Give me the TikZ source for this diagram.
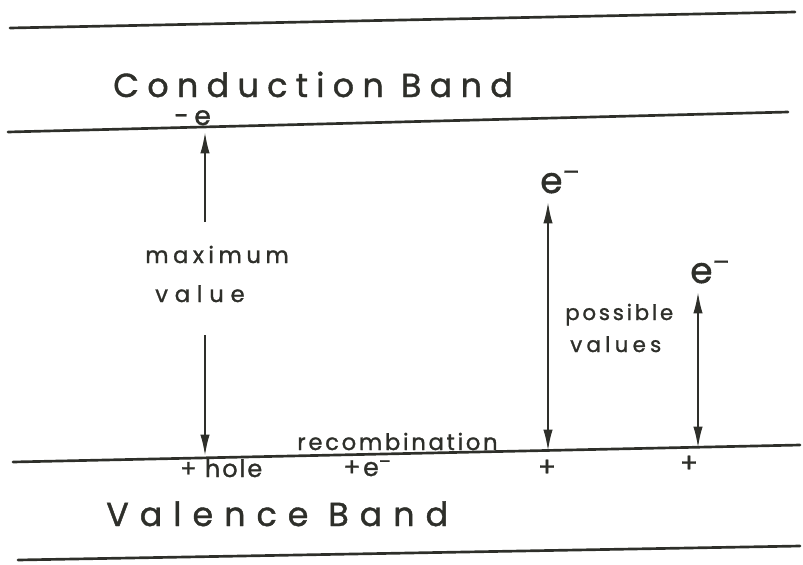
\documentclass[tikz,border=0pt]{standalone}
\usepackage{fontspec}
\setmainfont{Poppins}
\usetikzlibrary{arrows.meta}
\definecolor{ink}{HTML}{2E2F2A}
\newcommand\handsz[2]{\fontsize{#1}{#1}\selectfont\addfontfeature{LetterSpace=#2,FakeBold=1.2}}
\begin{document}
\begin{tikzpicture}[x=0.75pt,y=-0.75pt,
  band/.style={line width=2pt, draw=ink, line cap=round},
  shaft/.style={line width=1.5pt, draw=ink},
  tip/.style={-{Latex[length=16pt,width=7pt]}},
  dtip/.style={{Latex[length=16pt,width=7pt]}-{Latex[length=16pt,width=7pt]}},
  lbl/.style={inner sep=0pt, anchor=base west, text=ink}]
\useasboundingbox (0,0) rectangle (803,564);
% band edges
\coordinate (t1) at (10,28);   \coordinate (t2) at (795,12);
\coordinate (c1) at (8,132);   \coordinate (c2) at (788,112);
\coordinate (v1) at (13,462);  \coordinate (v2) at (800,445);
\coordinate (b1) at (18,560);  \coordinate (b2) at (800,546);
\draw[band] (t1) -- (t2);
\draw[band] (c1) -- (c2);
\draw[band] (v1) -- (v2);
\draw[band] (b1) -- (b2);
% labels
\node[lbl] (cb) at (113,97) {\handsz{25pt}{25}Conduction Band};
\node[lbl] (vb) at (106,526) {\handsz{25pt}{33}Valence Band};
\node[lbl] (me) at (174,125) {\handsz{20pt}{20}-e};
\node[lbl] (max) at (145,263) {\handsz{17pt}{20}maximum};
\node[lbl] (val) at (155,302) {\handsz{17pt}{30}value};
\node[lbl] (rec) at (297,450) {\handsz{17pt}{12}recombination};
\node[lbl] (pos) at (565,320) {\handsz{16pt}{13}possible};
\node[lbl] (vals) at (570,352) {\handsz{16pt}{20}values};
\node[lbl] (hole) at (180,477) {\handsz{18pt}{8}+ hole};
\node[lbl] (pe) at (343,476) {\handsz{19pt}{10}+e\textsuperscript{–}};
\node[lbl] (e1) at (540,193) {\handsz{27pt}{0}e\textsuperscript{–}};
\node[lbl] (e2) at (690,283) {\handsz{27pt}{0}e\textsuperscript{–}};
\node[lbl, anchor=center] (p1) at (547,468) {\handsz{20pt}{0}+};
\node[lbl, anchor=center] (p2) at (689,464) {\handsz{20pt}{0}+};
% arrows
\coordinate (a1top) at (205,132); \coordinate (a1m1) at (205,222);
\coordinate (a1m2) at (205,335);  \coordinate (a1bot) at (205,456);
\draw[shaft, tip] (a1m1) -- (a1top);
\draw[shaft, tip] (a1m2) -- (a1bot);
\coordinate (a2top) at (548,202); \coordinate (a2bot) at (548,451);
\draw[shaft, dtip] (a2bot) -- (a2top);
\coordinate (a3top) at (698,292); \coordinate (a3bot) at (698,448);
\draw[shaft, dtip] (a3bot) -- (a3top);
\end{tikzpicture}
\end{document}
